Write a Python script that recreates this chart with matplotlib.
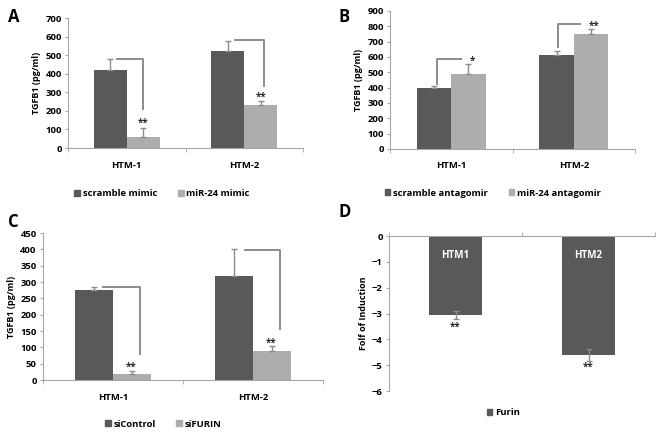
#Recreating the four panel TGFB1 / Furin bar chart figure

import matplotlib
matplotlib.use("Agg")
import matplotlib.pyplot as plt
from matplotlib.patches import Patch
import numpy as np

plt.rcParams['font.family'] = ['Open Sans', 'DejaVu Sans']
plt.rcParams['font.weight'] = 'bold'

#Data
groups = ['HTM-1', 'HTM-2']

a_labels = ['scramble mimic', 'miR-24 mimic']
a_dark = [420, 520]
a_dark_err = [60, 55]
a_light = [58, 230]
a_light_err = [52, 25]

b_labels = ['scramble antagomir', 'miR-24 antagomir']
b_dark = [395, 610]
b_dark_err = [15, 30]
b_light = [490, 748]
b_light_err = [62, 37]

c_labels = ['siControl', 'siFURIN']
c_dark = [275, 318]
c_dark_err = [9, 82]
c_light = [18, 90]
c_light_err = [11, 14]

d_groups = ['HTM1', 'HTM2']
d_label = 'Furin'
d_values = [-3.07, -4.62]
d_err = [0.16, 0.23]

#Colors
dark = '#595959'
light = '#adadad'
line_col = '#8c8c8c'
axis_col = '#a6a6a6'

W, H = 664, 436
fig = plt.figure(figsize=(W / 100, H / 100), dpi=100)

def px_axes(left, top, right, bottom):
    return fig.add_axes([left / W, 1 - bottom / H, (right - left) / W, (bottom - top) / H])

def style_axes(ax, ymin, ymax, step, ylabel, top_axis=False):
    ax.set_xlim(-0.5, 1.5)
    ax.set_ylim(ymin, ymax)
    ax.set_yticks(np.arange(ymin, ymax + step / 2, step))
    for s in ['top', 'right']:
        ax.spines[s].set_visible(False)
    ax.spines['left'].set_color(axis_col)
    ax.spines['bottom'].set_color(axis_col)
    ax.spines['left'].set_linewidth(0.8)
    ax.spines['bottom'].set_linewidth(0.8)
    if top_axis:
        ax.spines['bottom'].set_position(('data', 0))
    ax.tick_params(axis='y', labelsize=6.8, length=2.5, color=axis_col, pad=2)
    ax.set_xticks([0, 1])
    ax.set_xticks([-0.5, 0.5, 1.5], minor=True)
    ax.tick_params(axis='x', which='major', length=0, labelsize=6.8, pad=9)
    ax.tick_params(axis='x', which='minor', length=3, color=axis_col)
    ax.set_ylabel(ylabel, fontsize=6.5, fontweight='bold', labelpad=3)

def grouped(ax, dvals, derr, lvals, lerr, width):
    x = np.arange(len(groups))
    ax.bar(x - width / 2, dvals, width, color=dark, zorder=2)
    ax.bar(x + width / 2, lvals, width, color=light, zorder=2)
    ax.errorbar(x - width / 2, dvals, yerr=[np.zeros(2), derr], fmt='none',
                ecolor=line_col, elinewidth=1, capsize=2, zorder=3)
    ax.errorbar(x + width / 2, lvals, yerr=[np.zeros(2), lerr], fmt='none',
                ecolor=line_col, elinewidth=1, capsize=2, zorder=3)
    ax.set_xticklabels(groups)

def bracket(ax, x0, x1, ytop, ylow):
    ax.plot([x0, x1, x1], [ytop, ytop, ylow], color=line_col, lw=1.4, zorder=3)

def stars(ax, x, y, txt='**'):
    ax.text(x, y, txt, ha='center', va='center', fontsize=7, fontweight='bold', color='#2b2b2b')

def legend(ax, labels, colors, x, y):
    handles = [Patch(color=c) for c in colors]
    ax.legend(handles, labels, loc='center', bbox_to_anchor=(x, y), ncol=len(labels),
              frameon=False, fontsize=6.8, handlelength=0.6, handleheight=0.6,
              handletextpad=0.3, columnspacing=2.2, borderpad=0)

#Panel A
axA = px_axes(68, 18, 303, 148)
grouped(axA, a_dark, a_dark_err, a_light, a_light_err, 0.28)
style_axes(axA, 0, 700, 100, 'TGFB1 (pg/ml)')
bracket(axA, -0.08, 0.14, 480, 210)
bracket(axA, 0.92, 1.17, 580, 335)
stars(axA, 0.14, 132)
stars(axA, 1.14, 272)
legend(axA, a_labels, [dark, light], 0.40, -0.35)

#Panel B
axB = px_axes(390, 11, 635, 149)
grouped(axB, b_dark, b_dark_err, b_light, b_light_err, 0.28)
style_axes(axB, 0, 900, 100, 'TGFB1 (pg/ml)')
axB.plot([-0.12, -0.12, 0.08], [425, 585, 585], color=line_col, lw=1.4, zorder=3)
axB.plot([0.87, 0.87, 1.05], [665, 815, 815], color=line_col, lw=1.4, zorder=3)
stars(axB, 0.17, 575, '*')
stars(axB, 1.17, 800)
legend(axB, b_labels, [dark, light], 0.42, -0.32)

#Panel C
axC = px_axes(43, 233, 323, 380)
grouped(axC, c_dark, c_dark_err, c_light, c_light_err, 0.27)
style_axes(axC, 0, 450, 50, 'TGFB1 (pg/ml)')
bracket(axC, -0.07, 0.19, 286, 80)
bracket(axC, 0.94, 1.19, 399, 157)
stars(axC, 0.13, 38)
stars(axC, 1.13, 114)
legend(axC, c_labels, [dark, light], 0.43, -0.3)

#Panel D
axD = px_axes(389, 236, 655, 391)
xd = np.arange(len(d_groups))
axD.bar(xd, d_values, 0.4, color=dark, zorder=2)
axD.errorbar(xd, d_values, yerr=d_err, fmt='none', ecolor=line_col,
             elinewidth=1, capsize=2, zorder=3)
style_axes(axD, -6, 0, 1, 'Folf of Induction', top_axis=True)
axD.set_xticklabels([])
axD.tick_params(axis='x', which='minor', direction='in', length=3)
for i, g in enumerate(d_groups):
    axD.text(i, -0.75, g, ha='center', va='center', color='white', fontsize=7, fontweight='bold')
stars(axD, 0, -3.52)
stars(axD, 1, -5.07)
legend(axD, [d_label], [dark], 0.43, -0.14)

#Panel letters
for letter, x, y in [('A', 8, 17), ('B', 338, 17), ('C', 8, 222), ('D', 338, 212)]:
    fig.text(x / W, 1 - y / H, letter, fontsize=12, fontweight='bold', va='center', ha='left')

fig.savefig('out.png', dpi=100)
